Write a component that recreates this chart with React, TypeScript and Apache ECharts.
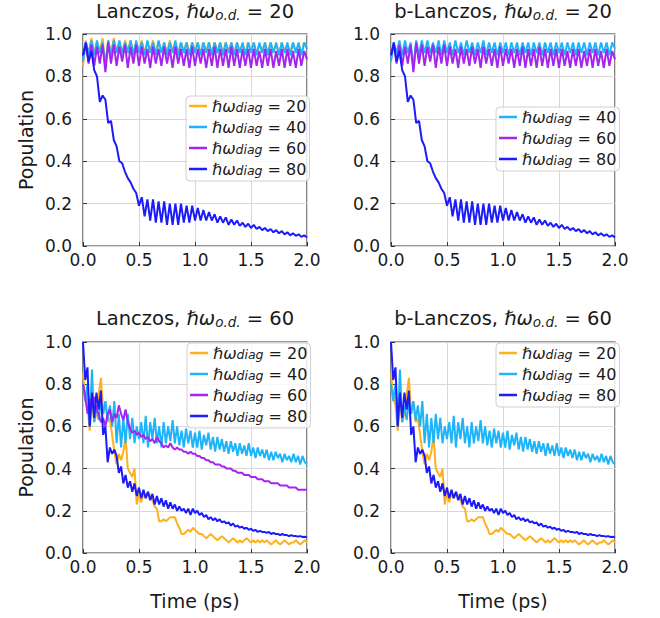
import React, { useEffect, useRef } from 'react';
import * as echarts from 'echarts';

// ---------- data ----------
const topStep = 0.025;
const botStep = 0.02;
const timeTop: number[] = Array.from({ length: 81 }, (_, i) => +(i * topStep).toFixed(3));
const timeBot: number[] = Array.from({ length: 101 }, (_, i) => +(i * botStep).toFixed(3));

const xTicks = [0, 0.5, 1.0, 1.5, 2.0];
const yTicks = [0, 0.2, 0.4, 0.6, 0.8, 1.0];

// hbar*omega_o.d. = 20 (top row), t = 0 .. 2 ps step 0.025
const top20 = [
  0.85, 0.97, 0.90, 0.98, 0.91, 0.96, 0.92, 0.98, 0.86, 0.97,
  0.91, 0.98, 0.92, 0.96, 0.90, 0.97, 0.92, 0.97, 0.91, 0.96,
  0.92, 0.97, 0.91, 0.96, 0.92, 0.97, 0.91, 0.96, 0.92, 0.96,
  0.91, 0.97, 0.92, 0.96, 0.91, 0.96, 0.92, 0.96, 0.91, 0.96,
  0.92, 0.96, 0.91, 0.96, 0.92, 0.96, 0.91, 0.96, 0.92, 0.96,
  0.91, 0.96, 0.92, 0.96, 0.91, 0.96, 0.92, 0.95, 0.91, 0.96,
  0.92, 0.96, 0.91, 0.95, 0.92, 0.96, 0.91, 0.96, 0.92, 0.95,
  0.91, 0.96, 0.92, 0.95, 0.91, 0.96, 0.92, 0.95, 0.91, 0.96,
  0.93,
];
const top40 = [
  0.87, 0.96, 0.91, 0.97, 0.90, 0.97, 0.91, 0.96, 0.84, 0.97,
  0.90, 0.97, 0.91, 0.97, 0.91, 0.96, 0.91, 0.97, 0.90, 0.97,
  0.91, 0.96, 0.90, 0.97, 0.91, 0.96, 0.90, 0.97, 0.91, 0.96,
  0.90, 0.96, 0.91, 0.97, 0.90, 0.96, 0.91, 0.96, 0.90, 0.96,
  0.91, 0.96, 0.90, 0.96, 0.91, 0.96, 0.90, 0.96, 0.91, 0.96,
  0.90, 0.96, 0.91, 0.96, 0.90, 0.96, 0.91, 0.96, 0.90, 0.96,
  0.91, 0.96, 0.90, 0.96, 0.91, 0.96, 0.90, 0.96, 0.91, 0.96,
  0.90, 0.96, 0.91, 0.96, 0.90, 0.96, 0.91, 0.96, 0.90, 0.96,
  0.93,
];
const top60 = [
  0.90, 0.95, 0.86, 0.95, 0.85, 0.94, 0.86, 0.95, 0.82, 0.96,
  0.86, 0.95, 0.85, 0.94, 0.87, 0.95, 0.84, 0.94, 0.86, 0.95,
  0.85, 0.94, 0.86, 0.93, 0.84, 0.94, 0.86, 0.93, 0.85, 0.94,
  0.86, 0.93, 0.84, 0.94, 0.86, 0.93, 0.85, 0.93, 0.84, 0.94,
  0.85, 0.93, 0.86, 0.93, 0.84, 0.93, 0.85, 0.94, 0.84, 0.93,
  0.85, 0.93, 0.84, 0.94, 0.85, 0.93, 0.84, 0.93, 0.85, 0.93,
  0.84, 0.93, 0.85, 0.92, 0.84, 0.93, 0.85, 0.93, 0.84, 0.92,
  0.85, 0.93, 0.84, 0.93, 0.85, 0.92, 0.84, 0.93, 0.85, 0.92,
  0.88,
];
const top80 = [
  0.90, 0.96, 0.87, 0.92, 0.83, 0.80, 0.68, 0.71, 0.69, 0.58,
  0.59, 0.50, 0.47, 0.40, 0.39, 0.35, 0.32, 0.30, 0.27, 0.25,
  0.19, 0.23, 0.14, 0.22, 0.12, 0.22, 0.11, 0.21, 0.11, 0.21,
  0.10, 0.20, 0.10, 0.20, 0.10, 0.20, 0.11, 0.19, 0.11, 0.19,
  0.12, 0.18, 0.12, 0.17, 0.12, 0.16, 0.12, 0.15, 0.11, 0.14,
  0.11, 0.135, 0.10, 0.125, 0.10, 0.12, 0.095, 0.11, 0.09, 0.105,
  0.085, 0.10, 0.08, 0.09, 0.075, 0.085, 0.07, 0.08, 0.065, 0.075,
  0.06, 0.07, 0.055, 0.065, 0.05, 0.06, 0.048, 0.055, 0.043, 0.05,
  0.04,
];

// hbar*omega_o.d. = 60 (bottom row), t = 0 .. 2 ps step 0.02
const bot20 = [
  0.85, 0.74, 0.70, 0.58, 0.72, 0.62, 0.66, 0.75, 0.83, 0.66,
  0.72, 0.62, 0.64, 0.56, 0.48, 0.42, 0.47, 0.44, 0.48, 0.55,
  0.40, 0.38, 0.36, 0.40, 0.23, 0.29, 0.24, 0.28, 0.26, 0.29,
  0.27, 0.25, 0.22, 0.21, 0.15, 0.15, 0.16, 0.15, 0.16, 0.17,
  0.17, 0.17, 0.14, 0.12, 0.09, 0.09, 0.10, 0.11, 0.10, 0.12,
  0.11, 0.10, 0.09, 0.09, 0.08, 0.07, 0.08, 0.09, 0.08, 0.07,
  0.06, 0.07, 0.08, 0.07, 0.06, 0.05, 0.06, 0.07, 0.06, 0.05,
  0.06, 0.05, 0.06, 0.07, 0.06, 0.05, 0.06, 0.05, 0.06, 0.05,
  0.06, 0.05, 0.06, 0.05, 0.04, 0.05, 0.06, 0.05, 0.04, 0.05,
  0.06, 0.05, 0.04, 0.05, 0.05, 0.06, 0.05, 0.04, 0.05, 0.06,
  0.05,
];
const bot40 = [
  0.80, 0.72, 0.80, 0.60, 0.87, 0.62, 0.70, 0.63, 0.72, 0.66,
  0.72, 0.63, 0.70, 0.60, 0.72, 0.52, 0.66, 0.50, 0.64, 0.52,
  0.66, 0.54, 0.64, 0.52, 0.60, 0.54, 0.62, 0.52, 0.65, 0.50,
  0.62, 0.54, 0.64, 0.52, 0.60, 0.50, 0.62, 0.52, 0.60, 0.53,
  0.63, 0.52, 0.60, 0.51, 0.58, 0.50, 0.59, 0.52, 0.58, 0.50,
  0.57, 0.50, 0.58, 0.49, 0.56, 0.51, 0.57, 0.49, 0.55, 0.48,
  0.55, 0.49, 0.54, 0.48, 0.53, 0.47, 0.53, 0.48, 0.52, 0.46,
  0.52, 0.47, 0.51, 0.46, 0.52, 0.46, 0.50, 0.45, 0.50, 0.46,
  0.49, 0.45, 0.49, 0.44, 0.48, 0.44, 0.48, 0.45, 0.47, 0.43,
  0.47, 0.44, 0.46, 0.43, 0.47, 0.43, 0.46, 0.42, 0.46, 0.43,
  0.42,
];
const bot60 = [
  0.80, 0.74, 0.66, 0.73, 0.70, 0.74, 0.68, 0.66, 0.62, 0.64,
  0.60, 0.66, 0.68, 0.62, 0.66, 0.64, 0.70, 0.66, 0.63, 0.68,
  0.62, 0.59, 0.57, 0.58, 0.56, 0.57, 0.55, 0.56, 0.54, 0.55,
  0.53, 0.54, 0.52, 0.55, 0.53, 0.52, 0.50, 0.51, 0.50, 0.52,
  0.50, 0.49, 0.50, 0.49, 0.49, 0.48, 0.48, 0.47, 0.48, 0.47,
  0.47, 0.46, 0.46, 0.45, 0.45, 0.44, 0.44, 0.43, 0.43, 0.42,
  0.42, 0.42, 0.41, 0.41, 0.40, 0.40, 0.40, 0.39, 0.39, 0.38,
  0.38, 0.38, 0.37, 0.37, 0.37, 0.36, 0.36, 0.36, 0.35, 0.35,
  0.35, 0.34, 0.34, 0.34, 0.33, 0.33, 0.33, 0.33, 0.32, 0.32,
  0.32, 0.32, 0.31, 0.31, 0.31, 0.31, 0.30, 0.30, 0.30, 0.30,
  0.30,
];
const bot80 = [
  1.00, 0.82, 0.88, 0.60, 0.76, 0.64, 0.76, 0.68, 0.77, 0.56,
  0.60, 0.43, 0.50, 0.47, 0.49, 0.46, 0.38, 0.41, 0.33, 0.37,
  0.31, 0.34, 0.29, 0.33, 0.27, 0.31, 0.26, 0.30, 0.26, 0.29,
  0.25, 0.28, 0.23, 0.27, 0.23, 0.26, 0.22, 0.25, 0.21, 0.24,
  0.21, 0.23, 0.20, 0.22, 0.20, 0.21, 0.19, 0.21, 0.18, 0.21,
  0.19, 0.20, 0.18, 0.19, 0.17, 0.18, 0.16, 0.17, 0.155, 0.165,
  0.15, 0.16, 0.145, 0.15, 0.14, 0.145, 0.13, 0.14, 0.125, 0.13,
  0.12, 0.125, 0.115, 0.12, 0.11, 0.115, 0.105, 0.11, 0.10, 0.105,
  0.10, 0.10, 0.095, 0.10, 0.09, 0.095, 0.09, 0.09, 0.085, 0.09,
  0.085, 0.085, 0.08, 0.085, 0.08, 0.08, 0.078, 0.08, 0.076, 0.077,
  0.074,
];

const panelTitles = [
  ['Lanczos, ', '20'],
  ['b-Lanczos, ', '20'],
  ['Lanczos, ', '60'],
  ['b-Lanczos, ', '60'],
];
const legendNames = [
  ['20', '40', '60', '80'],
  ['40', '60', '80'],
  ['20', '40', '60', '80'],
  ['20', '40', '80'],
];

const COLORS: Record<string, string> = {
  '20': '#FFB01F',
  '40': '#1EB4FA',
  '60': '#A424F0',
  '80': '#1C1CFA',
};

const FONT = 'DejaVu Sans';
const TXT = '#1a1a1a';

export default function App() {
  const ref = useRef<HTMLDivElement>(null);

  useEffect(() => {
    if (!ref.current) return;
    const chart = echarts.init(ref.current, undefined, { renderer: 'svg' });

    const grids = [
      { left: 83, top: 34, width: 224, height: 212 },
      { left: 391, top: 34, width: 224, height: 212 },
      { left: 83, top: 342, width: 224, height: 211 },
      { left: 391, top: 342, width: 224, height: 211 },
    ].map((g) => ({ ...g, show: true, borderColor: '#333', borderWidth: 1.2, backgroundColor: 'transparent' }));

    const xAxes = grids.map((_, i) => ({
      type: 'value',
      gridIndex: i,
      min: xTicks[0],
      max: xTicks[xTicks.length - 1],
      interval: 0.5,
      name: i >= 2 ? 'Time (ps)' : '',
      nameLocation: 'middle',
      nameGap: 38,
      nameTextStyle: { fontFamily: FONT, fontSize: 19, color: TXT },
      axisLine: { show: false },
      axisTick: { show: true, inside: true, length: 4, lineStyle: { color: '#333', width: 1 } },
      axisLabel: { margin: 5, fontFamily: FONT, fontSize: 17, color: TXT, formatter: (v: number) => v.toFixed(1) },
      splitLine: { show: true, lineStyle: { color: '#d8d8d8', width: 1 } },
    }));
    const yAxes = grids.map((_, i) => ({
      type: 'value',
      gridIndex: i,
      min: yTicks[0],
      max: yTicks[yTicks.length - 1],
      interval: 0.2,
      name: i % 2 === 0 ? 'Population' : '',
      nameLocation: 'middle',
      nameGap: 48,
      nameTextStyle: { fontFamily: FONT, fontSize: 19, color: TXT },
      axisLine: { show: false },
      axisTick: { show: true, inside: true, length: 4, lineStyle: { color: '#333', width: 1 } },
      axisLabel: { margin: 11, fontFamily: FONT, fontSize: 17, color: TXT, formatter: (v: number) => v.toFixed(1) },
      splitLine: { show: true, lineStyle: { color: '#d8d8d8', width: 1 } },
    }));

    const titleRich = {
      a: { fontFamily: FONT, fontSize: 19.5, lineHeight: 22, color: TXT },
      m: { fontFamily: FONT, fontSize: 19.5, lineHeight: 22, fontStyle: 'italic', color: TXT },
      s: { fontFamily: FONT, fontSize: 13.5, lineHeight: 6, fontStyle: 'italic', verticalAlign: 'bottom', color: TXT },
    };
    const titleCenters = [
      [195, 0],
      [503, 0],
      [195, 307],
      [503, 307],
    ];
    const titles = panelTitles.map((p, i) => ({
      text: `{a|${p[0]}}{m|ℏω}{s|o.d.}{a| = ${p[1]}}`,
      left: titleCenters[i][0],
      top: titleCenters[i][1],
      textAlign: 'center',
      padding: 0,
      textStyle: { rich: titleRich, fontFamily: FONT, fontSize: 19.5, color: TXT, fontWeight: 'normal' },
    }));

    const legendRich = {
      m: { fontFamily: FONT, fontSize: 16, lineHeight: 16, fontStyle: 'italic', color: TXT },
      s: { fontFamily: FONT, fontSize: 12.5, lineHeight: 5, fontStyle: 'italic', verticalAlign: 'bottom', color: TXT },
      n: { fontFamily: FONT, fontSize: 16, lineHeight: 16, color: TXT },
    };
    const legendPos = [
      { left: 186, top: 96 },
      { left: 496, top: 107 },
      { left: 187, top: 343 },
      { left: 496, top: 343 },
    ];
    const legends = legendNames.map((names, i) => ({
      ...legendPos[i],
      orient: 'vertical',
      data: names,
      icon: 'rect',
      itemWidth: 18,
      itemHeight: 2.5,
      itemGap: 5,
      padding: [2, 3, 4, 3],
      backgroundColor: 'rgba(255,255,255,0.8)',
      borderColor: '#d0d0d0',
      borderWidth: 1,
      borderRadius: 4,
      selectedMode: false,
      formatter: (n: string) => `{m|ℏω}{s|diag}{n| = ${n}}`,
      textStyle: { rich: legendRich, fontFamily: FONT, fontSize: 16, color: TXT },
    }));

    const mk = (name: string, times: number[], vals: number[], idx: number) => ({
      type: 'line',
      name,
      xAxisIndex: idx,
      yAxisIndex: idx,
      data: times.map((t, k) => [t, vals[k]]),
      showSymbol: false,
      symbol: 'none',
      clip: true,
      silent: true,
      lineStyle: { color: COLORS[name], width: 2 },
      itemStyle: { color: COLORS[name] },
      emphasis: { disabled: true },
    });

    const series = [
      mk('20', timeTop, top20, 0),
      mk('40', timeTop, top40, 0),
      mk('60', timeTop, top60, 0),
      mk('80', timeTop, top80, 0),
      mk('40', timeTop, top40, 1),
      mk('60', timeTop, top60, 1),
      mk('80', timeTop, top80, 1),
      mk('20', timeBot, bot20, 2),
      mk('40', timeBot, bot40, 2),
      mk('60', timeBot, bot60, 2),
      mk('80', timeBot, bot80, 2),
      mk('20', timeBot, bot20, 3),
      mk('40', timeBot, bot40, 3),
      mk('80', timeBot, bot80, 3),
    ];

    chart.setOption({
      animation: false,
      backgroundColor: '#ffffff',
      title: titles,
      legend: legends,
      grid: grids,
      xAxis: xAxes,
      yAxis: yAxes,
      series,
    });

    return () => chart.dispose();
  }, []);

  return <div ref={ref} style={{ position: 'absolute', left: 0, top: 0, width: 660, height: 618 }} />;
}
